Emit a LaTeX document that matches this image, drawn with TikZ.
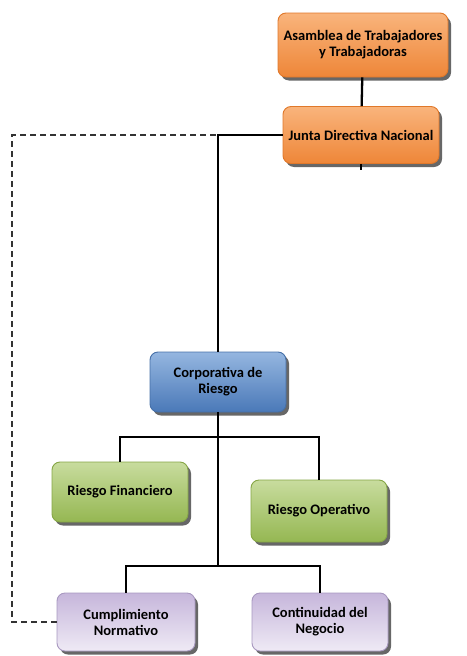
\documentclass[tikz,border=0pt]{standalone}
\usepackage{fontspec}
\setmainfont{Carlito}
\usepackage{tikz}
\usetikzlibrary{positioning,calc,shadows}
\definecolor{orangetop}{HTML}{F9B47C}
\definecolor{orangebot}{HTML}{EE8638}
\definecolor{orangeline}{HTML}{E0782A}
\definecolor{bluetop}{HTML}{95B6E0}
\definecolor{bluebot}{HTML}{4A79B8}
\definecolor{blueline}{HTML}{4670A8}
\definecolor{greentop}{HTML}{C8DC9E}
\definecolor{greenbot}{HTML}{95B752}
\definecolor{greenline}{HTML}{86A646}
\definecolor{lilactop}{HTML}{C6B6DB}
\definecolor{lilacbot}{HTML}{EFEAF5}
\definecolor{lilacline}{HTML}{A898C0}
\definecolor{dashgray}{HTML}{333333}

\begin{document}
\begin{tikzpicture}[
  x=1pt, y=-1pt,
  box/.style={rounded corners=8pt, align=center, font=\fontsize{14.5}{16}\selectfont\bfseries,
    text=black, line width=0.9pt,
    drop shadow={shadow xshift=3pt, shadow yshift=-3.5pt, fill=black!70, opacity=0.85}},
  orangebox/.style={box, draw=orangeline, top color=orangetop, bottom color=orangebot},
  bluebox/.style={box, draw=blueline, top color=bluetop, bottom color=bluebot},
  greenbox/.style={box, draw=greenline, top color=greentop, bottom color=greenbot},
  lilacbox/.style={box, draw=lilacline, top color=lilactop, bottom color=lilacbot},
  link/.style={line width=2.3pt, black},
  dashlink/.style={line width=1.4pt, dashgray, dash pattern=on 6pt off 4pt},
]
\useasboundingbox (0,0) rectangle (466,656);

% Boxes
\node[orangebox, minimum width=170pt, minimum height=64pt] (asam) at (363,45) {Asamblea de Trabajadores\\y Trabajadoras};
\node[orangebox, minimum width=156pt, minimum height=57pt] (junta) at (361,135) {Junta Directiva Nacional};
\node[bluebox, minimum width=136pt, minimum height=60pt] (corp) at (218,382) {Corporativa de\\Riesgo};
\node[greenbox, minimum width=136pt, minimum height=60pt] (fin) at (120,492) {Riesgo Financiero};
\node[greenbox, minimum width=136pt, minimum height=62pt] (oper) at (319,511) {Riesgo Operativo};
\node[lilacbox, minimum width=138pt, minimum height=58pt] (cumpl) at (126,622) {Cumplimiento\\Normativo};
\node[lilacbox, minimum width=136pt, minimum height=58pt] (cont) at (320,622) {Continuidad del\\Negocio};

% Helper points
\coordinate (stub) at ($(junta.south)+(0,6)$);
\coordinate (dashcorner) at (12,135);
\coordinate (busA) at (218,437);
\coordinate (busB) at (218,566);

% Connectors
\draw[link] (asam) -- (junta);
\draw[link] (junta.south) -- (stub);
\draw[link] (junta.west) -| (corp.north);
\draw[link] (corp.south) -- (busB);
\draw[link] (fin.north) |- (busA) -| (oper.north);
\draw[link] (cumpl.north) |- (busB) -| (cont.north);
\draw[dashlink] (cumpl.west) -| (dashcorner) -- (corp.north |- junta.west);

\end{tikzpicture}
\end{document}
